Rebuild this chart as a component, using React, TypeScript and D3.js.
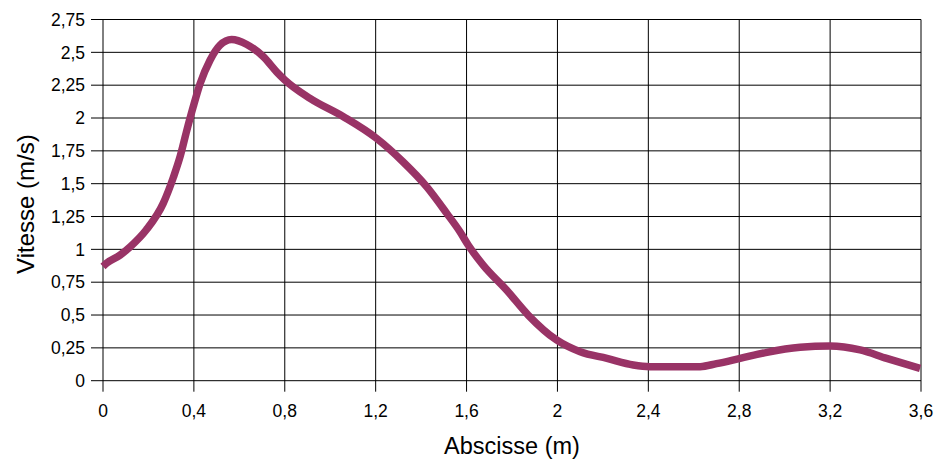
import * as d3 from "d3";
import { useEffect, useRef } from "react";

// Readings: abscissa (m) and speed (m/s)
const abscisse = [
  0, 0.016, 0.075, 0.12, 0.19, 0.265, 0.31, 0.34, 0.368, 0.397, 0.427, 0.471,
  0.515, 0.566, 0.633, 0.706, 0.765, 0.8, 0.911, 1.058, 1.204, 1.32, 1.425,
  1.513, 1.571, 1.607, 1.673, 1.776, 1.871, 1.996, 2.1, 2.218, 2.334, 2.407,
  2.5, 2.628, 2.7, 2.804, 2.922, 3.068, 3.2, 3.332, 3.449, 3.596,
];
const vitesse = [
  0.87, 0.895, 0.956, 1.02, 1.147, 1.35, 1.55, 1.71, 1.9, 2.085, 2.26, 2.44,
  2.555, 2.598, 2.56, 2.466, 2.35, 2.29, 2.15, 2.01, 1.845, 1.667, 1.476,
  1.274, 1.134, 1.033, 0.88, 0.69, 0.5, 0.31, 0.22, 0.17, 0.12, 0.107, 0.106,
  0.107, 0.13, 0.17, 0.216, 0.254, 0.264, 0.234, 0.17, 0.094,
];
const xTicks = [0, 0.4, 0.8, 1.2, 1.6, 2, 2.4, 2.8, 3.2, 3.6];
const yTicks = [0, 0.25, 0.5, 0.75, 1, 1.25, 1.5, 1.75, 2, 2.25, 2.5, 2.75];

const WIDTH = 934;
const HEIGHT = 459;
const LINE_COLOR = "#993366";
const FONT = "'Liberation Sans', Arial, Helvetica, sans-serif";

const fmt = (v: number) => String(v).replace(".", ",");

export default function App() {
  const svgRef = useRef<SVGSVGElement | null>(null);

  useEffect(() => {
    const svg = d3.select(svgRef.current);
    svg.selectAll("*").remove();

    const x = d3.scaleLinear().domain([0, 3.6]).range([103, 921]);
    const y = d3.scaleLinear().domain([0, 2.75]).range([380.7, 19.5]);

    // grid + tick marks (ticks are the grid lines running past the axes)
    const grid = svg.append("g").attr("stroke", "#000").attr("stroke-width", 1);
    grid
      .selectAll("line.h")
      .data(yTicks)
      .enter()
      .append("line")
      .attr("x1", x(0) - 12)
      .attr("x2", x(3.6))
      .attr("y1", (d) => y(d))
      .attr("y2", (d) => y(d));
    grid
      .selectAll("line.v")
      .data(xTicks)
      .enter()
      .append("line")
      .attr("x1", (d) => x(d))
      .attr("x2", (d) => x(d))
      .attr("y1", y(2.75))
      .attr("y2", y(0) + 11);

    // tick labels
    svg
      .append("g")
      .selectAll("text")
      .data(yTicks)
      .enter()
      .append("text")
      .attr("x", x(0) - 18)
      .attr("y", (d) => y(d))
      .attr("dy", "0.36em")
      .attr("text-anchor", "end")
      .attr("font-family", FONT)
      .attr("font-size", 17.5)
      .text((d) => fmt(d));

    svg
      .append("g")
      .selectAll("text")
      .data(xTicks)
      .enter()
      .append("text")
      .attr("x", (d) => x(d))
      .attr("y", 417)
      .attr("text-anchor", "middle")
      .attr("font-family", FONT)
      .attr("font-size", 17.5)
      .text((d) => fmt(d));

    // curve
    const pts = abscisse.map((a, i) => [a, vitesse[i]] as [number, number]);
    const line = d3
      .line<[number, number]>()
      .x((d) => x(d[0]))
      .y((d) => y(d[1]))
      .curve(d3.curveMonotoneX);
    svg
      .append("path")
      .attr("d", line(pts))
      .attr("fill", "none")
      .attr("stroke", LINE_COLOR)
      .attr("stroke-width", 7.5)
      .attr("stroke-linejoin", "round")
      .attr("stroke-linecap", "butt");

    // axis titles
    svg
      .append("text")
      .attr("x", (x(0) + x(3.6)) / 2)
      .attr("y", 454)
      .attr("text-anchor", "middle")
      .attr("font-family", FONT)
      .attr("font-size", 23.5)
      .text("Abscisse (m)");

    svg
      .append("text")
      .attr("transform", "rotate(-90)")
      .attr("x", -(y(0) + y(2.75)) / 2 - 4)
      .attr("y", 34)
      .attr("text-anchor", "middle")
      .attr("font-family", FONT)
      .attr("font-size", 24)
      .text("Vitesse (m/s)");
  }, []);

  return (
    <svg
      ref={svgRef}
      width={WIDTH}
      height={HEIGHT}
      style={{ position: "absolute", left: 0, top: 0, background: "#fff" }}
    />
  );
}
